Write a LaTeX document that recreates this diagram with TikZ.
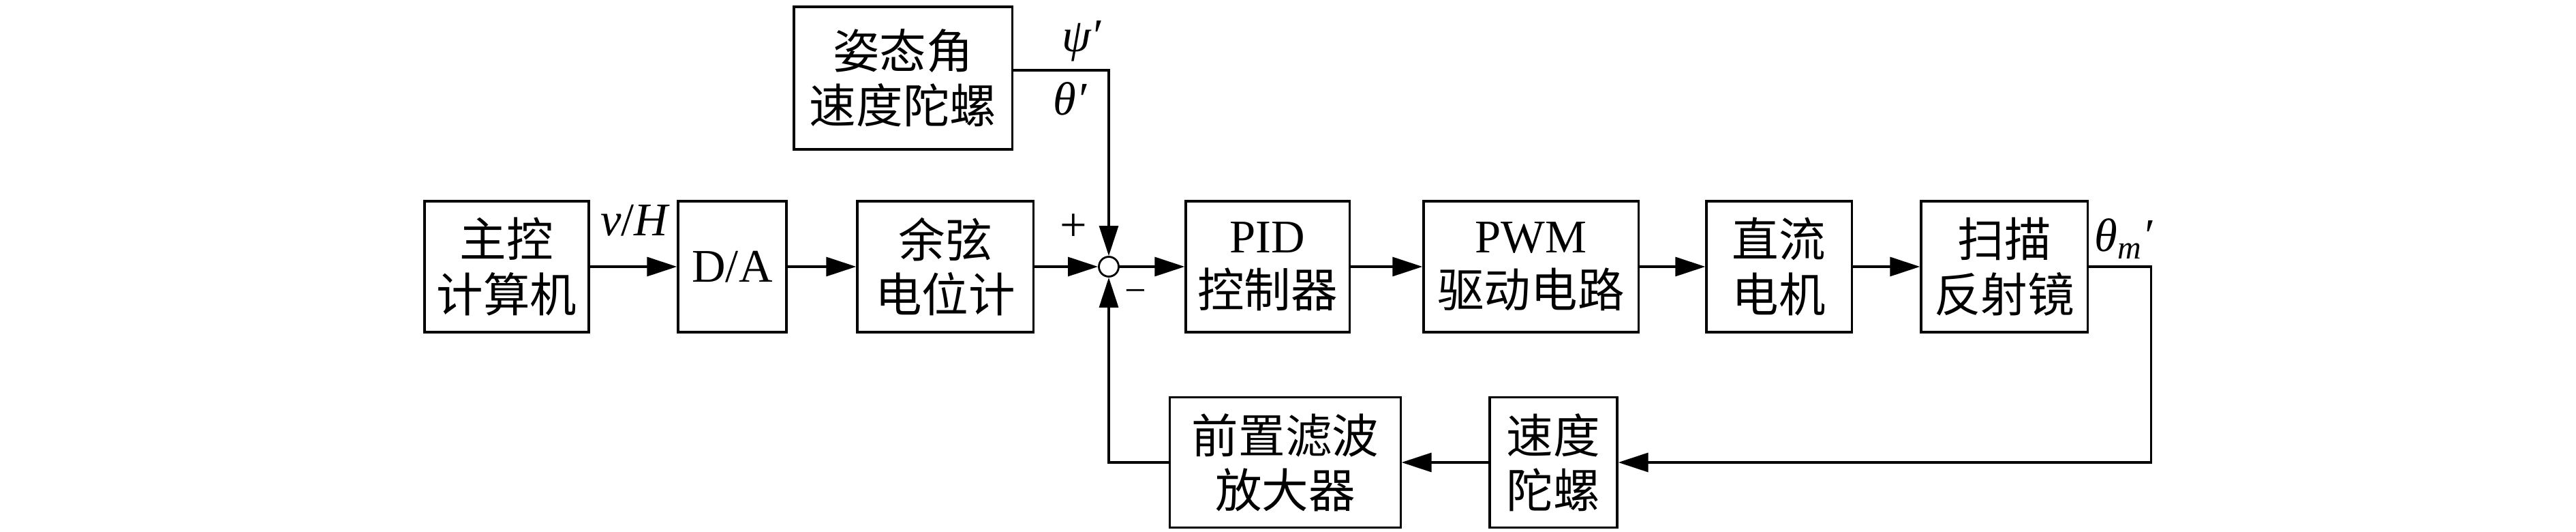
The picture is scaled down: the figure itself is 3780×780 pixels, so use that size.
\documentclass[tikz,border=0pt]{standalone}
\usepackage{fontspec}
\setmainfont{Liberation Serif}
\newfontfamily\cjk{Noto Sans CJK SC}
\usetikzlibrary{arrows.meta}
\begin{document}
\begin{tikzpicture}[x=0.01cm,y=-0.01cm,
  blk/.style={draw,line width=0.9pt,inner sep=0pt,minimum height=1.92cm,align=center,font=\fontsize{19.5}{22.8}\selectfont},
  lnk/.style={line width=0.9pt,-{Triangle[length=4.4mm,width=2.8mm]}},
  lbl/.style={font=\fontsize{19.5}{22}\selectfont\itshape,inner sep=0pt},
  sgn/.style={font=\fontsize{20}{22}\selectfont,inner sep=0pt}]
\useasboundingbox (0,0) rectangle (3780,780);
% main row
\node[blk,minimum width=2.41cm] (mc) at (743.5,391) {\cjk 主控\\\cjk 计算机};
\node[blk,minimum width=1.59cm] (da) at (1074.5,391) {D/A};
\node[blk,minimum width=2.58cm] (cos) at (1387,391) {\cjk 余弦\\\cjk 电位计};
\node[circle,draw,line width=0.8pt,minimum size=0.29cm,inner sep=0pt] (s) at (1627,391) {};
\node[blk,minimum width=2.40cm] (pid) at (1860,391) {PID\\\cjk 控制器};
\node[blk,minimum width=3.15cm] (pwm) at (2246.5,391) {PWM\\\cjk 驱动电路};
\node[blk,minimum width=2.13cm] (dc) at (2610.5,391) {\cjk 直流\\\cjk 电机};
\node[blk,minimum width=2.44cm] (scan) at (2941,391) {\cjk 扫描\\\cjk 反射镜};
% attitude gyro
\node[blk,minimum width=3.20cm,minimum height=2.09cm] (att) at (1325,114.5) {\cjk 姿态角\\\cjk 速度陀螺};
% feedback row
\node[blk,minimum width=3.38cm,minimum height=1.91cm] (amp) at (1886,678) {\cjk 前置滤波\\\cjk 放大器};
\node[blk,minimum width=1.87cm,minimum height=1.91cm] (gyro) at (2279.5,678) {\cjk 速度\\\cjk 陀螺};
% connectors
\draw[lnk] (mc) -- (da);
\draw[lnk] (da) -- (cos);
\draw[lnk] (cos) -- (s);
\draw[lnk] (s) -- (pid);
\draw[lnk] (pid) -- (pwm);
\draw[lnk] (pwm) -- (dc);
\draw[lnk] (dc) -- (scan);
\draw[lnk] ([yshift=0.115cm]att.east) -| (s.north);
\draw[lnk] (scan.east) -- ++(92,0) |- (gyro.east);
\draw[lnk] (gyro) -- (amp);
\draw[lnk] (amp.west) -| (s.south);
% labels
\node[lbl] (vh) at (931,323) {v\upshape/\itshape H};
\node[lbl] (psi) at (1587,60) {ψ′};
\node[lbl] (th) at (1570,145) {θ′};
\node[lbl] (thm) at (3116,350) {θ\textsubscript{m}′};
\node[sgn] (plus) at (1575,334) {+};
\node[sgn,font=\fontsize{16}{18}\selectfont] (minus) at (1666,434) {−};
\end{tikzpicture}
\end{document}
